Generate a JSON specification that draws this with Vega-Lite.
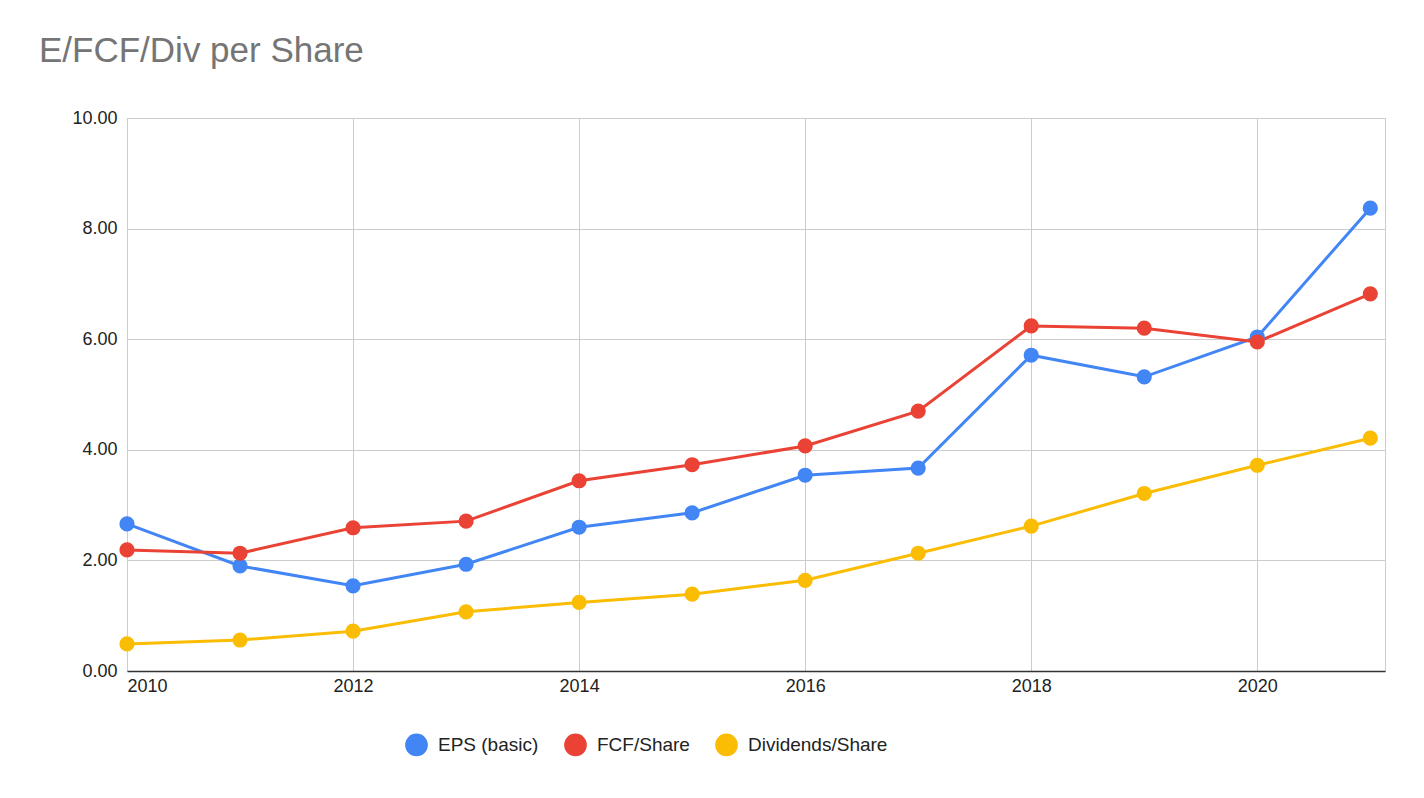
{
  "$schema": "https://vega.github.io/schema/vega-lite/v6.json",
  "autosize": "none",
  "width": 1258,
  "height": 553,
  "padding": {"left": 127, "top": 118, "right": 39, "bottom": 127},
  "background": "white",
  "title": {"text": "E/FCF/Div per Share", "anchor": "start", "frame": "group", "dx": -88, "offset": 40, "fontSize": 35, "font": "Liberation Sans", "fontWeight": "normal", "color": "#757575"},
  "data": {"values": [
    {"year": 2010, "s": "EPS (basic)", "v": 2.66}, {"year": 2011, "s": "EPS (basic)", "v": 1.90}, {"year": 2012, "s": "EPS (basic)", "v": 1.54}, {"year": 2013, "s": "EPS (basic)", "v": 1.93}, {"year": 2014, "s": "EPS (basic)", "v": 2.60}, {"year": 2015, "s": "EPS (basic)", "v": 2.86}, {"year": 2016, "s": "EPS (basic)", "v": 3.54}, {"year": 2017, "s": "EPS (basic)", "v": 3.67}, {"year": 2018, "s": "EPS (basic)", "v": 5.71}, {"year": 2019, "s": "EPS (basic)", "v": 5.32}, {"year": 2020, "s": "EPS (basic)", "v": 6.04}, {"year": 2021, "s": "EPS (basic)", "v": 8.37},
    {"year": 2010, "s": "FCF/Share", "v": 2.19}, {"year": 2011, "s": "FCF/Share", "v": 2.13}, {"year": 2012, "s": "FCF/Share", "v": 2.59}, {"year": 2013, "s": "FCF/Share", "v": 2.71}, {"year": 2014, "s": "FCF/Share", "v": 3.44}, {"year": 2015, "s": "FCF/Share", "v": 3.73}, {"year": 2016, "s": "FCF/Share", "v": 4.07}, {"year": 2017, "s": "FCF/Share", "v": 4.70}, {"year": 2018, "s": "FCF/Share", "v": 6.24}, {"year": 2019, "s": "FCF/Share", "v": 6.20}, {"year": 2020, "s": "FCF/Share", "v": 5.95}, {"year": 2021, "s": "FCF/Share", "v": 6.82},
    {"year": 2010, "s": "Dividends/Share", "v": 0.49}, {"year": 2011, "s": "Dividends/Share", "v": 0.56}, {"year": 2012, "s": "Dividends/Share", "v": 0.72}, {"year": 2013, "s": "Dividends/Share", "v": 1.07}, {"year": 2014, "s": "Dividends/Share", "v": 1.24}, {"year": 2015, "s": "Dividends/Share", "v": 1.39}, {"year": 2016, "s": "Dividends/Share", "v": 1.64}, {"year": 2017, "s": "Dividends/Share", "v": 2.13}, {"year": 2018, "s": "Dividends/Share", "v": 2.62}, {"year": 2019, "s": "Dividends/Share", "v": 3.21}, {"year": 2020, "s": "Dividends/Share", "v": 3.72}, {"year": 2021, "s": "Dividends/Share", "v": 4.21}
  ]},
  "encoding": {
    "x": {"field": "year", "type": "quantitative", "scale": {"domain": [2010, 2021.13], "nice": false, "zero": false},
      "axis": {"title": null, "values": [2010, 2012, 2014, 2016, 2018, 2020], "format": "d", "labelFontSize": 18, "labelFont": "Liberation Sans", "labelColor": "#222", "grid": true, "gridColor": "#cccccc", "domain": true, "domainColor": "#333333", "domainWidth": 1.5, "ticks": false, "labelPadding": 6}},
    "y": {"field": "v", "type": "quantitative", "scale": {"domain": [0, 10], "nice": false},
      "axis": {"title": null, "values": [0, 2, 4, 6, 8, 10], "format": ".2f", "labelFontSize": 18, "labelFont": "Liberation Sans", "labelColor": "#222", "grid": true, "gridColor": "#cccccc", "domain": false, "ticks": false, "labelPadding": 10}},
    "color": {"field": "s", "type": "nominal", "sort": ["EPS (basic)", "FCF/Share", "Dividends/Share"],
      "scale": {"domain": ["EPS (basic)", "FCF/Share", "Dividends/Share"], "range": ["#4285f4", "#ea4335", "#fbbc04"]},
      "legend": {"title": null, "orient": "none", "legendX": 278, "legendY": 615, "direction": "horizontal", "symbolType": "circle", "symbolSize": 450, "symbolOpacity": 1, "labelFontSize": 19, "labelFont": "Liberation Sans", "labelColor": "#222", "columnPadding": 22, "labelOffset": 10}}
  },
  "layer": [
    {"mark": {"type": "line", "strokeWidth": 3}},
    {"mark": {"type": "circle", "size": 230, "opacity": 1}}
  ],
  "config": {"view": {"stroke": "#cccccc"}}
}
